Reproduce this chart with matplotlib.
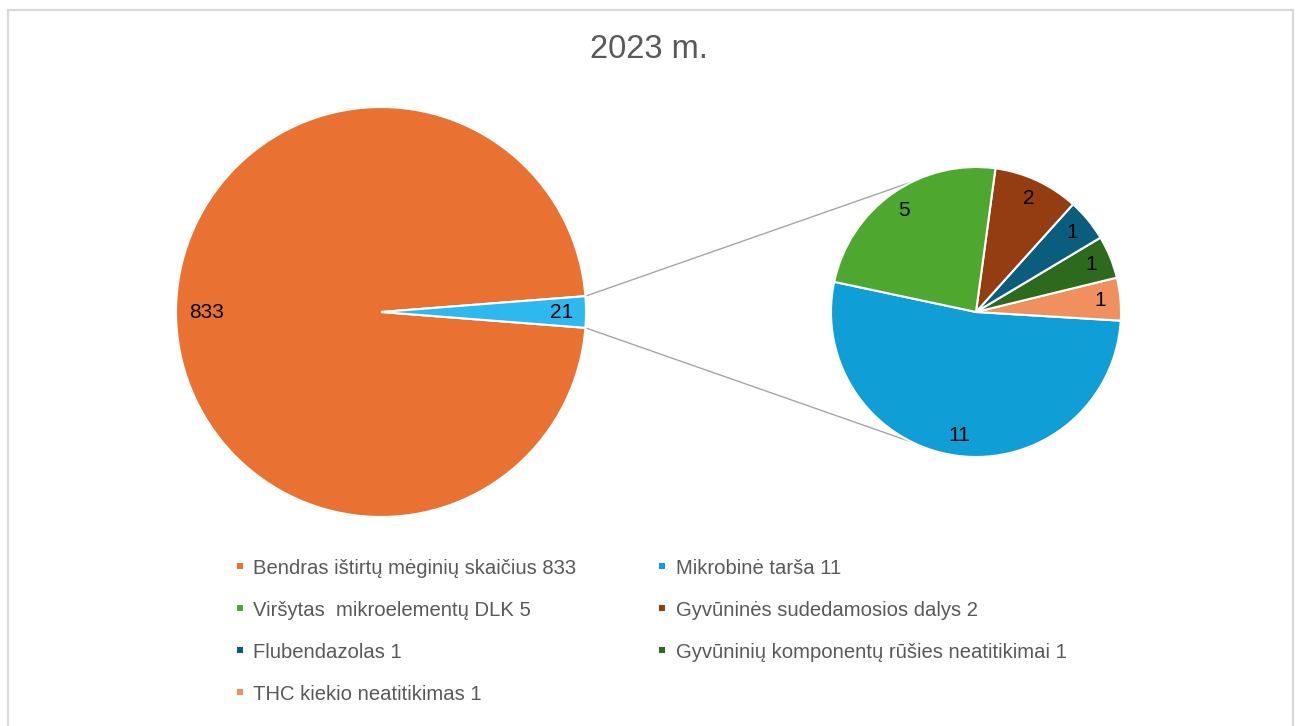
import numpy as np
import matplotlib.pyplot as plt
from matplotlib.patches import Rectangle

plt.rcParams['font.family'] = ['Liberation Sans', 'DejaVu Sans']

title = "2023 m."

# pagrindinis skritulys
main_labels = ["Bendras ištirtų mėginių skaičius", "Neatitikimai"]
main_values = [833, 21]
main_colors = ["#E97132", "#2DB9EF"]

# antrinis skritulys (prieš laikrodžio rodyklę nuo 11)
sub_labels = ["Mikrobinė tarša", "THC kiekio neatitikimas",
              "Gyvūninių komponentų rūšies neatitikimai", "Flubendazolas",
              "Gyvūninės sudedamosios dalys", "Viršytas  mikroelementų DLK"]
sub_values = [11, 1, 1, 1, 2, 5]
sub_colors = ["#0F9ED5", "#F0905F", "#2D6A1E", "#0B5D7E", "#953D12", "#4EA72E"]

# legendos tvarka (eilutėmis)
legend_order = [
    ("Bendras ištirtų mėginių skaičius 833", main_colors[0]),
    ("Mikrobinė tarša 11", sub_colors[0]),
    ("Viršytas  mikroelementų DLK 5", sub_colors[5]),
    ("Gyvūninės sudedamosios dalys 2", sub_colors[4]),
    ("Flubendazolas 1", sub_colors[3]),
    ("Gyvūninių komponentų rūšies neatitikimai 1", sub_colors[2]),
    ("THC kiekio neatitikimas 1", sub_colors[1]),
]

W, H = 1301, 726
fig = plt.figure(figsize=(W / 100, H / 100), dpi=100)
ax = fig.add_axes([0, 0, 1, 1])
ax.axis('off')

# rėmelis
ax.add_patch(Rectangle((8, -10), 1285, H - 10 + 10, fill=False,
                       edgecolor="#D9D9D9", lw=1.6))

main_c, main_r = (381, 414), 205
sub_c, sub_r = (976, 414), 145

half = main_values[1] / sum(main_values) * 180
_, main_txt = ax.pie(main_values, colors=main_colors, center=main_c,
                     radius=main_r, startangle=half,
                     labels=[str(v) for v in main_values], labeldistance=0.85,
                     wedgeprops=dict(edgecolor="white", linewidth=1.5),
                     textprops=dict(fontsize=15, color="black"))
main_txt[1].set_position((main_c[0] + 0.88 * main_r, main_c[1]))

_, sub_txt = ax.pie(sub_values, colors=sub_colors, center=sub_c, radius=sub_r,
                    startangle=168, labels=[str(v) for v in sub_values],
                    labeldistance=0.86,
                    wedgeprops=dict(edgecolor="white", linewidth=1.5),
                    textprops=dict(fontsize=15, color="black"))
for t in list(main_txt) + list(sub_txt):
    t.set_ha('center')
    t.set_va('center')

ax.set_xlim(0, W)
ax.set_ylim(0, H)
ax.set_aspect('equal')

# jungiamosios linijos
for a_main, a_sub in [(half, 116), (-half, 244)]:
    x0 = main_c[0] + main_r * np.cos(np.radians(a_main))
    y0 = main_c[1] + main_r * np.sin(np.radians(a_main))
    x1 = sub_c[0] + sub_r * np.cos(np.radians(a_sub))
    y1 = sub_c[1] + sub_r * np.sin(np.radians(a_sub))
    ax.plot([x0, x1], [y0, y1], color="#A6A6A6", lw=1.0, zorder=0)

ax.text(649, H - 50, title, ha='center', va='center', fontsize=23.5,
        color="#595959")

# legenda
col_x = [239.5, 662]
row_y = [566, 608, 650, 692]
for i, (txt, col) in enumerate(legend_order):
    cx = col_x[i % 2]
    cy = H - row_y[i // 2]
    ax.add_patch(Rectangle((cx - 3, cy - 3), 6, 6, color=col, lw=0))
    ax.text(cx + 13.5, cy - 2, txt, ha='left', va='center', fontsize=14.6,
            color="#595959")

fig.savefig("out.png", dpi=100)
